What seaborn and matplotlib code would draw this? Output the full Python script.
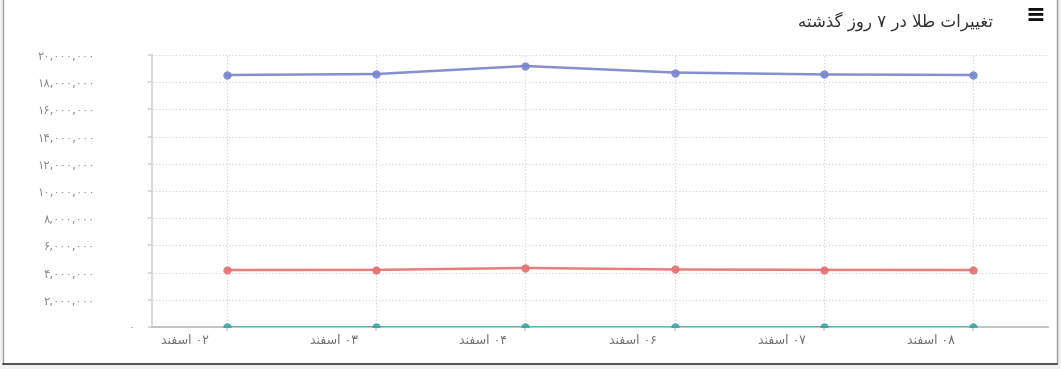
import re
import matplotlib
matplotlib.use("Agg")
import matplotlib.pyplot as plt
from matplotlib.patches import Rectangle
from matplotlib.lines import Line2D
from matplotlib.transforms import ScaledTranslation
from matplotlib.ticker import FuncFormatter, FixedLocator
import seaborn as sns
import pandas as pd

# ---------------- data ----------------
title_text = "تغییرات طلا در ۷ روز گذشته"
days = ["۰۲ اسفند", "۰۳ اسفند", "۰۴ اسفند", "۰۶ اسفند", "۰۷ اسفند", "۰۸ اسفند"]
series_names = ["سکه", "طلای ۱۸ عیار", "انس"]
coin = [18530000, 18600000, 19190000, 18710000, 18570000, 18530000]
gold18 = [4190000, 4200000, 4340000, 4230000, 4200000, 4190000]
ounce = [1830, 1835, 1840, 1838, 1832, 1830]
y_ticks = [0, 2000000, 4000000, 6000000, 8000000, 10000000,
           12000000, 14000000, 16000000, 18000000, 20000000]
colors = ["#7986CB", "#E57373", "#3AA8A4"]

# ---------------- minimal Persian shaping (matplotlib has no CTL) ----------------
FORMS = {
    "ا": ("\uFE8D", "\uFE8E", None, None),
    "د": ("\uFEA9", "\uFEAA", None, None),
    "ذ": ("\uFEAB", "\uFEAC", None, None),
    "ر": ("\uFEAD", "\uFEAE", None, None),
    "ز": ("\uFEAF", "\uFEB0", None, None),
    "و": ("\uFEED", "\uFEEE", None, None),
    "ت": ("\uFE95", "\uFE96", "\uFE97", "\uFE98"),
    "غ": ("\uFECD", "\uFECE", "\uFECF", "\uFED0"),
    "ی": ("\uFBFC", "\uFBFD", "\uFBFE", "\uFBFF"),
    "ط": ("\uFEC1", "\uFEC2", "\uFEC3", "\uFEC4"),
    "ل": ("\uFEDD", "\uFEDE", "\uFEDF", "\uFEE0"),
    "گ": ("\uFB92", "\uFB93", "\uFB94", "\uFB95"),
    "ش": ("\uFEB5", "\uFEB6", "\uFEB7", "\uFEB8"),
    "ه": ("\uFEE9", "\uFEEA", "\uFEEB", "\uFEEC"),
    "س": ("\uFEB1", "\uFEB2", "\uFEB3", "\uFEB4"),
    "ف": ("\uFED1", "\uFED2", "\uFED3", "\uFED4"),
    "ن": ("\uFEE5", "\uFEE6", "\uFEE7", "\uFEE8"),
    "ک": ("\uFB8E", "\uFB8F", "\uFB90", "\uFB91"),
    "ع": ("\uFEC9", "\uFECA", "\uFECB", "\uFECC"),
}
DIG = "0-9\u06F0-\u06F9,"


def rtl(s):
    toks, i = [], 0
    while i < len(s):
        if s[i] == "ل" and i + 1 < len(s) and s[i + 1] == "ا":
            toks.append("LA"); i += 2
        else:
            toks.append(s[i]); i += 1

    def joins_next(t):
        return t in FORMS and FORMS[t][2] is not None

    def joinable(t):
        return t == "LA" or t in FORMS

    res = []
    for k, t in enumerate(toks):
        prev = toks[k - 1] if k > 0 else None
        nxt = toks[k + 1] if k + 1 < len(toks) else None
        jp = prev is not None and joins_next(prev) and joinable(t)
        jn = joins_next(t) and nxt is not None and joinable(nxt)
        if t == "LA":
            res.append("\uFEFC" if jp else "\uFEFB")
        elif t in FORMS:
            iso, fin, ini, med = FORMS[t]
            res.append(med if (jp and jn) else fin if jp else ini if jn else iso)
        else:
            res.append(t)
    shaped = "".join(res)
    runs = re.findall(f"[{DIG}]+|[^{DIG}]+", shaped)
    return "".join(r if re.fullmatch(f"[{DIG}]+", r) else r[::-1] for r in reversed(runs))


def fa_num(v, pos=None):
    s = f"{int(v):,}"
    return s.translate(str.maketrans("0123456789", "۰۱۲۳۴۵۶۷۸۹"))


# ---------------- figure ----------------
sns.set_theme(style="white")
plt.rcParams["font.family"] = ["DejaVu Sans"]

W, H = 1061, 369
fig = plt.figure(figsize=(W / 100, H / 100), dpi=100)
fig.patch.set_facecolor("#f1f1f1")
fig.patches.append(Rectangle((3 / W, 5 / H), 1054 / W, 1 - 5 / H, transform=fig.transFigure,
                             facecolor="white", edgecolor="none", zorder=-10))
fig.lines.append(Line2D([3 / W, 3 / W], [5 / H, 1], transform=fig.transFigure,
                        color="#9a9a9a", linewidth=1.0, zorder=-9))
fig.lines.append(Line2D([1057 / W, 1057 / W], [5 / H, 1], transform=fig.transFigure,
                        color="#9a9a9a", linewidth=1.0, zorder=-9))
fig.lines.append(Line2D([3 / W, 1057 / W], [5 / H, 5 / H], transform=fig.transFigure,
                        color="#333333", linewidth=1.2, zorder=-9))

ax = fig.add_axes([152 / W, 42 / H, 896 / W, 272 / H])
ax.set_zorder(5)
ax.set_facecolor("none")

df = pd.DataFrame({
    "day": list(range(len(days))) * 3,
    "value": coin + gold18 + ounce,
    "series": [series_names[0]] * len(days) + [series_names[1]] * len(days) + [series_names[2]] * len(days),
})
sns.lineplot(data=df, x="day", y="value", hue="series", palette=colors, marker="o",
             markersize=6, markeredgewidth=0, linewidth=1.8, legend=False, ax=ax,
             alpha=0.92, zorder=3)

ax.set_xlim(-0.5, len(days) - 0.5)
ax.set_ylim(0, 20000000)
ax.yaxis.set_major_locator(FixedLocator(y_ticks))
ax.yaxis.set_major_formatter(FuncFormatter(fa_num))
ax.set_xticks(range(len(days)))
ax.set_xticklabels([rtl(d) for d in days])
ax.set_xlabel("")
ax.set_ylabel("")

ax.grid(True, linestyle=(0, (1, 2)), color="#d0d0d0", linewidth=0.8)
for s in ["top", "right"]:
    ax.spines[s].set_visible(False)
ax.spines["left"].set_color("#d5d5d5")
ax.spines["bottom"].set_color("#bbbbbb")
ax.tick_params(axis="y", length=3, color="#d5d5d5", pad=38, labelsize=8.5, labelcolor="#8a8a8a", left=True)
ax.tick_params(axis="x", length=3, color="#cccccc", pad=2, labelsize=9, labelcolor="#707070", bottom=True)

off = ScaledTranslation(-0.42, 0, fig.dpi_scale_trans)
for lab in ax.get_xticklabels():
    lab.set_transform(lab.get_transform() + off)
ylabs = ax.get_yticklabels()
ylabs[0].set_transform(ylabs[0].get_transform() + ScaledTranslation(0.40, 0, fig.dpi_scale_trans))

fig.text(993 / W, 1 - 21 / H, rtl(title_text), ha="right", va="center", fontsize=12, color="#333333")
fig.text(1035 / W, 1 - 15 / H, "≡", ha="center", va="center", fontsize=17, fontweight="bold", color="#111111")

fig.savefig("out.png", dpi=100, facecolor=fig.get_facecolor())
